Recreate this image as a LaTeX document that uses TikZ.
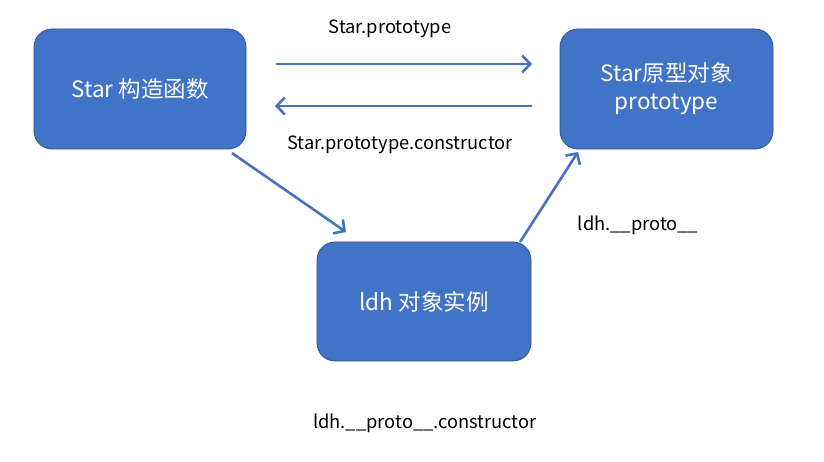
\documentclass[tikz,border=0pt]{standalone}
\usepackage{fontspec}
\setmainfont{Noto Sans CJK SC}
\usetikzlibrary{arrows.meta}
\definecolor{boxfill}{HTML}{4173C6}
\definecolor{boxline}{HTML}{2F528F}
\definecolor{arrowc}{HTML}{4472C4}
\tikzset{
  box/.style={draw=boxline, line width=0.8pt, fill=boxfill, rounded corners=18pt,
    text=white, font=\fontsize{22.5}{28}\selectfont, align=center, inner sep=0pt},
  conn/.style={draw=arrowc, line width=2.6pt, -{Straight Barb[length=8pt,width=17pt,line width=2.6pt]}},
  lbl/.style={font=\fontsize{18.3}{22}\selectfont, text=black, inner sep=0pt}
}
\begin{document}
\begin{tikzpicture}[x=1pt,y=-1pt]
\useasboundingbox (0,0) rectangle (824,462);
\fill[white] (0,0) rectangle (824,462);
\node[box, minimum width=212pt, minimum height=120pt] (star) at (140,89) {Star 构造函数};
\node[box, minimum width=213pt, minimum height=120pt] (proto) at (666.5,89) {Star原型对象\\prototype};
\node[box, minimum width=214pt, minimum height=119pt] (ldh) at (424,301.5) {ldh 对象实例};
\coordinate (a1s) at (276,64);
\coordinate (a1e) at (532,64);
\coordinate (a2s) at (532,106);
\coordinate (a2e) at (275,106);
\coordinate (a3s) at (232,153);
\coordinate (a3e) at (346,232);
\coordinate (a4s) at (520,242);
\coordinate (a4e) at (578,152);
\draw[conn] (a1s) -- (a1e);
\draw[conn] (a2s) -- (a2e);
\draw[conn] (a3s) -- (a3e);
\draw[conn] (a4s) -- (a4e);
\node[lbl] (l1) at (390,29) {Star.prototype};
\node[lbl] (l2) at (400,145) {Star.prototype.constructor};
\node[lbl] (l3) at (638,225) {ldh.\_\_proto\_\_};
\node[lbl] (l4) at (425,423) {ldh.\_\_proto\_\_.constructor};
\end{tikzpicture}
\end{document}
